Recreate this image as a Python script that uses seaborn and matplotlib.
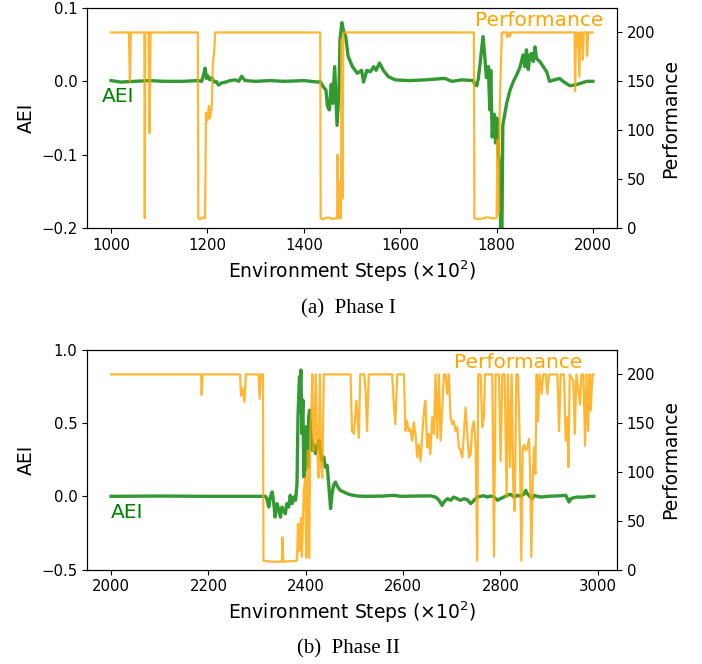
import matplotlib
matplotlib.use("Agg")
import matplotlib.pyplot as plt
from matplotlib.ticker import MultipleLocator
import seaborn as sns

# ---------------- Phase I data ----------------
steps_aei_a = [1000, 1020, 1050, 1080, 1110, 1150, 1180, 1188, 1192, 1195, 1198, 1200, 1205,
               1209, 1214, 1218, 1223, 1230, 1238, 1247, 1258, 1265, 1271, 1278, 1300, 1330,
               1360, 1400, 1430, 1434, 1440, 1446, 1449, 1453, 1457, 1460, 1464, 1469, 1473,
               1475, 1479, 1482, 1487, 1492, 1501, 1511, 1520, 1524, 1531, 1538, 1545, 1550,
               1557, 1566, 1576, 1590, 1618, 1652, 1693, 1707, 1728, 1752, 1755, 1759, 1762,
               1766, 1768, 1772, 1776, 1779, 1783, 1786, 1788, 1791, 1795, 1798, 1801, 1804,
               1807, 1810, 1813, 1817, 1821, 1828, 1835, 1842, 1849, 1855, 1859, 1862, 1866,
               1869, 1873, 1876, 1880, 1883, 1890, 1897, 1904, 1910, 1920, 1931, 1938, 1945,
               1952, 1963, 1973, 1987, 2000]
aei_a = [0.001, -0.001, 0.0, 0.001, 0.0, 0.0, 0.001, 0.0, 0.009, 0.018, 0.004, 0.008, 0.002,
         0.005, -0.001, 0.0, -0.005, -0.002, -0.001, 0.001, 0.002, 0.0, 0.007, 0.001, 0.0, 0.001,
         0.0, 0.001, -0.001, 0.0, -0.007, -0.012, -0.034, -0.039, -0.004, -0.03, 0.02, -0.06, -0.012,
         0.056, 0.08, 0.07, 0.061, 0.034, 0.02, 0.011, 0.015, -0.001, 0.015, 0.013, 0.02, 0.015,
         0.025, 0.014, 0.006, 0.002, 0.001, 0.002, 0.004, 0.0, 0.002, 0.001, -0.005, -0.006, 0.003,
         0.025, 0.038, 0.061, 0.03, 0.005, 0.02, -0.039, 0.015, -0.076, -0.045, -0.084, -0.05, -0.1,
         -0.116, -0.3, -0.06, -0.045, -0.03, -0.012, 0.0, 0.009, 0.02, 0.036, 0.02, 0.043, 0.016,
         0.036, 0.038, 0.027, 0.047, 0.031, 0.027, 0.02, 0.013, 0.0, 0.002, 0.004, 0.0, -0.003,
         -0.006, -0.005, -0.003, 0.0, 0.0]

steps_perf_a = [1000, 1037, 1039, 1041, 1069, 1070, 1071, 1078, 1080, 1082, 1180, 1181, 1186,
                1190, 1195, 1197, 1200, 1203, 1205, 1209, 1211, 1214, 1216, 1434, 1435, 1440,
                1450, 1460, 1467, 1469, 1470, 1472, 1474, 1475, 1477, 1478.5, 1480, 1482, 1753,
                1754, 1765, 1780, 1790, 1800, 1802, 1804, 1807, 1811, 1821, 1822, 1826, 1828,
                1830, 1962, 1963, 1965, 1967, 1969, 1972, 1974, 1975, 1977, 1979, 1981, 1987,
                1988, 1990, 2000]
perf_a = [200, 200, 150, 200, 200, 10, 200, 200, 97, 200, 200, 10, 9,
          11, 10, 118, 110, 125, 112, 125, 166, 180, 200, 200, 10, 9,
          11, 9, 10, 10, 75, 10, 10, 46, 10, 193, 30, 200, 200,
          10, 9, 11, 10, 10, 90, 15, 130, 200, 200, 195, 200, 196,
          200, 200, 140, 200, 185, 200, 155, 200, 190, 200, 172, 200, 200,
          176, 200, 200]

# ---------------- Phase II data ----------------
steps_aei_b = [2000, 2100, 2200, 2286, 2317, 2320, 2324, 2327, 2331, 2334, 2337, 2341, 2344,
               2348, 2351, 2355, 2358, 2361, 2365, 2368, 2372, 2375, 2379, 2382, 2384, 2387,
               2389, 2390, 2392, 2394, 2396, 2398, 2399, 2401, 2404, 2406, 2408, 2411, 2413,
               2416, 2420, 2423, 2427, 2430, 2433, 2437, 2440, 2444, 2447, 2451, 2454, 2457,
               2461, 2464, 2468, 2471, 2478, 2485, 2492, 2506, 2526, 2560, 2581, 2595, 2629,
               2656, 2667, 2674, 2680, 2684, 2691, 2698, 2704, 2711, 2718, 2725, 2732, 2739,
               2746, 2752, 2759, 2766, 2773, 2780, 2787, 2794, 2800, 2807, 2814, 2821, 2828,
               2835, 2842, 2849, 2852, 2855, 2862, 2866, 2869, 2876, 2883, 2897, 2910, 2924,
               2934, 2938, 2941, 2945, 2951, 2958, 2972, 2986, 2992]
aei_b = [0.0, 0.002, 0.0, 0.0, 0.0, -0.016, -0.073, -0.005, 0.03, -0.039, -0.142, -0.05, -0.084,
         -0.142, -0.073, -0.096, -0.119, -0.05, -0.073, 0.007, -0.05, -0.005, -0.027, 0.087, 0.543, 0.817,
         0.795, 0.863, 0.429, 0.658, 0.132, 0.361, 0.178, 0.475, 0.2, 0.543, 0.589, 0.406, 0.315,
         0.361, 0.292, 0.338, 0.384, 0.315, 0.247, 0.269, 0.2, 0.212, 0.087, -0.084, 0.018, 0.075,
         0.098, 0.075, 0.053, 0.041, 0.03, 0.018, 0.011, 0.002, 0.0, 0.002, 0.007, 0.0, 0.002,
         0.003, -0.005, -0.027, -0.062, -0.039, -0.016, -0.027, -0.005, -0.016, -0.027, -0.016, -0.023, -0.05,
         -0.027, -0.005, 0.0, 0.004, -0.005, 0.002, -0.005, -0.027, -0.016, -0.005, 0.007, 0.014, -0.005,
         0.007, 0.0, 0.018, 0.041, 0.018, -0.005, -0.016, 0.007, 0.0, -0.005, 0.0, 0.002, 0.004,
         0.007, -0.016, -0.039, -0.016, -0.009, -0.005, -0.005, 0.0, 0.0]

steps_perf_b = [2000, 2185, 2186, 2188, 2265, 2267, 2270, 2274, 2277, 2303, 2305, 2308, 2312,
                2313, 2330, 2351, 2352, 2354, 2382, 2384, 2387, 2390, 2392, 2396, 2399, 2401,
                2404, 2407, 2409.5, 2411.5, 2413.6, 2416, 2418, 2420.5, 2423, 2426, 2429, 2431,
                2434, 2437, 2492, 2495, 2499, 2504, 2509, 2512, 2520, 2523, 2526, 2529.5, 2577.5,
                2581, 2584, 2588, 2601.6, 2605, 2608, 2612, 2615, 2619, 2622, 2625.6, 2629, 2632,
                2636, 2639, 2643, 2646, 2649.6, 2653, 2656, 2659.8, 2663.3, 2666.7, 2670.1, 2673.5,
                2677, 2680.4, 2683.8, 2687.3, 2690.7, 2694.1, 2697.6, 2701, 2704.4, 2707.9, 2711.3,
                2714.7, 2718.1, 2721.6, 2725, 2728.4, 2731.9, 2735.3, 2738.7, 2742.2, 2745.6, 2749,
                2752.4, 2754.5, 2759.3, 2762.7, 2766.2, 2768.2, 2783.3, 2786.8, 2790.2, 2797, 2800.5,
                2803.9, 2808.7, 2812.8, 2815.6, 2819.7, 2823.1, 2826.5, 2829.3, 2832.7, 2836.1, 2840.2,
                2843, 2845.7, 2848.5, 2851.9, 2855.3, 2858.8, 2860.8, 2863.6, 2866.3, 2869.1, 2871.8,
                2874.5, 2877.3, 2880, 2884.8, 2887.6, 2893.1, 2896.5, 2899.9, 2917.1, 2920.5, 2923.9,
                2930.8, 2934.2, 2937.7, 2939.7, 2942.5, 2950, 2952.8, 2956.2, 2963.7, 2966.5, 2970.6,
                2974, 2976.8, 2980.2, 2983, 2985.7, 2989.1, 2992]
perf_b = [200, 200, 179, 200, 200, 178, 186, 172, 200, 200, 175, 200, 200,
          9, 8, 8, 33, 8, 9, 47, 19, 53, 13, 81, 94, 12,
          122, 12, 139, 163, 200, 122, 132, 200, 135, 94, 200, 108,
          94, 200, 200, 142, 139, 173, 135, 200, 200, 183, 142, 200, 200,
          169, 149, 200, 200, 142, 152, 142, 144, 132, 151, 139, 115, 128,
          111, 135, 163, 173, 125, 139, 118, 156, 139, 200, 135, 200,
          132, 163, 200, 200, 180, 200, 156, 149, 152, 142, 146,
          125, 122, 115, 139, 166, 139, 115, 118, 146, 152, 128,
          9, 200, 200, 146, 156, 200, 200, 13, 200, 200, 111,
          200, 200, 74, 200, 105, 200, 81, 60, 200, 200, 122,
          9, 122, 128, 122, 125, 134, 105, 13, 88, 125, 98,
          200, 152, 200, 180, 200, 200, 180, 200, 200, 142, 200,
          200, 132, 156, 105, 200, 193, 139, 200, 169, 200, 200,
          127, 200, 142, 200, 163, 200, 200]

phases = [
    dict(s_aei=steps_aei_a, aei=aei_a, s_perf=steps_perf_a, perf=perf_a,
         xlim=(950, 2050), aei_lim=(-0.2, 0.1), aei_step=0.1, caption="(a)  Phase I",
         aei_pos=(0.028, 0.597), perf_pos=(0.974, 0.942)),
    dict(s_aei=steps_aei_b, aei=aei_b, s_perf=steps_perf_b, perf=perf_b,
         xlim=(1950.4, 3039.6), aei_lim=(-0.5, 1.0), aei_step=0.5, caption="(b)  Phase II",
         aei_pos=(0.045, 0.258), perf_pos=(0.935, 0.942)),
]

W, H = 702, 664
fig = plt.figure(figsize=(W / 100, H / 100), dpi=100)

boxes = [(87, 8, 617, 228), (87, 350, 617, 569.5)]
caption_y = [309, 649]

for ph, (l, t, r, b), cy in zip(phases, boxes, caption_y):
    ax = fig.add_axes([l / W, 1 - b / H, (r - l) / W, (b - t) / H])
    ax2 = ax.twinx()
    sns.lineplot(x=ph["s_aei"], y=ph["aei"], ax=ax, color="green", alpha=0.8,
                 linewidth=2.4, estimator=None, sort=False, legend=False)
    sns.lineplot(x=ph["s_perf"], y=ph["perf"], ax=ax2, color="orange", alpha=0.8,
                 linewidth=1.6, estimator=None, sort=False, legend=False)
    ax.set_xlim(*ph["xlim"])
    ax.set_ylim(*ph["aei_lim"])
    ax.yaxis.set_major_locator(MultipleLocator(ph["aei_step"]))
    ax2.set_ylim(0, 225)
    ax2.yaxis.set_major_locator(MultipleLocator(50))
    ax.set_xlabel("Environment Steps (×10$^2$)", fontsize=13.5)
    ax.set_ylabel("AEI", fontsize=13.5)
    ax2.set_ylabel("Performance", fontsize=13.5)
    ax.tick_params(labelsize=10.7)
    ax2.tick_params(labelsize=10.7)
    ax.text(ph["aei_pos"][0], ph["aei_pos"][1], "AEI", color="green", fontsize=14.5,
            ha="left", va="center", transform=ax.transAxes)
    ax.text(ph["perf_pos"][0], ph["perf_pos"][1], "Performance", color="orange",
            fontsize=14.5, ha="right", va="center", transform=ax.transAxes)
    fig.text(348 / W, 1 - cy / H, ph["caption"], family="Liberation Serif",
             fontsize=15, ha="center", va="center")

fig.savefig("out.png", dpi=100)
